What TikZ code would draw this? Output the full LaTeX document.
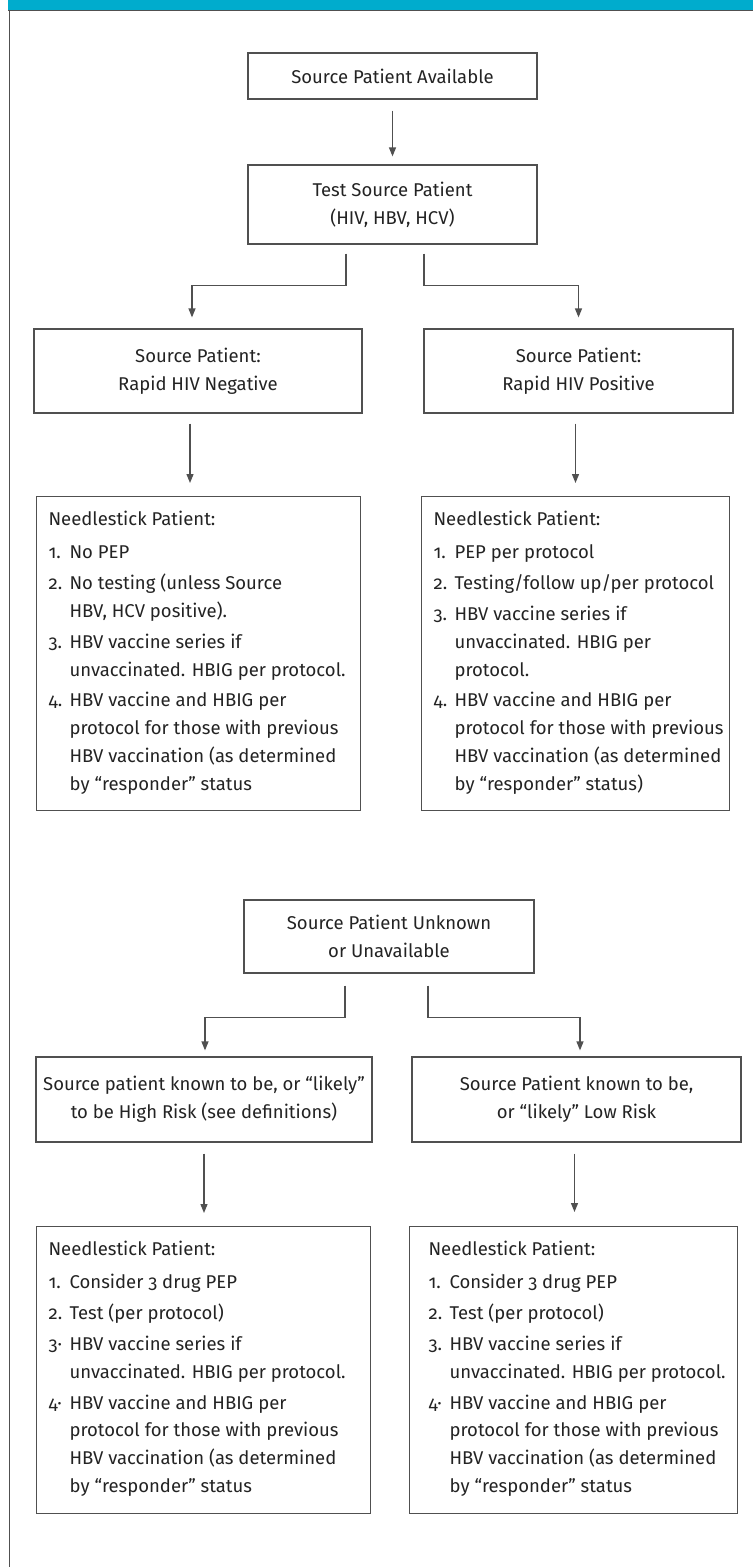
\documentclass[tikz,border=0pt]{standalone}
\usepackage{fontspec}
\setmainfont{Fira Sans}[Numbers=OldStyle]
\definecolor{headteal}{RGB}{0,172,205}
\definecolor{linegray}{RGB}{80,80,80}
\definecolor{textgray}{RGB}{35,35,35}
\usetikzlibrary{arrows.meta,calc}
\newcommand{\needlebox}[4]{\parbox[t][#1][t]{#2}{\hspace*{#3}\begin{tabular}[t]{@{}p{21pt}@{}l@{}}#4\end{tabular}}}

\begin{document}
\begin{tikzpicture}[x=1pt,y=-1pt,
    stage/.style={draw=linegray, line width=1.2pt, align=center, text=textgray, inner sep=0pt,
      font=\fontsize{18.5}{28}\selectfont},
    needle/.style={draw=linegray, line width=1.2pt, anchor=north west, text=textgray,
      inner xsep=12pt, inner ysep=9pt, font=\fontsize{18.5}{27.8}\selectfont},
    flow/.style={draw=linegray, line width=1.2pt, -{Triangle[length=9pt,width=7pt]}},
    ]
    \useasboundingbox (0,0) rectangle (753,1567);
    % header bar and frame
    \fill[headteal] (8,0) rectangle (753,10);
    \draw[linegray, line width=1.3pt] (8,10.5) -- (753,10.5);
    \draw[linegray, line width=1.3pt] (9.5,10) -- (9.5,1567);

    % source patient available
    \node[stage, minimum width=289pt, minimum height=46pt] (avail) at (392.5,76) {Source Patient Available};
    \node[stage, minimum width=289pt, minimum height=79pt] (test) at (392.5,204.5) {Test Source Patient\\(HIV, HBV, HCV)};
    \node[stage, minimum width=328pt, minimum height=84pt] (neg) at (198,371) {Source Patient:\\Rapid HIV Negative};
    \node[stage, minimum width=309pt, minimum height=84pt] (pos) at (578.5,371) {Source Patient:\\Rapid HIV Positive};
    \node[needle] (needleA) at (36,496) {\needlebox{296pt}{300pt}{0pt}{%
      \multicolumn{2}{@{}l@{}}{Needlestick Patient:}\\[6pt]
      1. & No PEP\\[3pt]
      2. & No testing (unless Source\\
         & HBV, HCV positive).\\[3pt]
      3. & HBV vaccine series if\\
         & unvaccinated. HBIG per protocol.\\[3pt]
      4. & HBV vaccine and HBIG per\\
         & protocol for those with previous\\
         & HBV vaccination (as determined\\
         & by “responder” status}};
    \node[needle] (needleB) at (421,496) {\needlebox{296pt}{284pt}{0pt}{%
      \multicolumn{2}{@{}l@{}}{Needlestick Patient:}\\[6pt]
      1. & PEP per protocol\\[3pt]
      2. & Testing/follow up/per protocol\\[3pt]
      3. & HBV vaccine series if\\
         & unvaccinated. HBIG per\\
         & protocol.\\[3pt]
      4. & HBV vaccine and HBIG per\\
         & protocol for those with previous\\
         & HBV vaccination (as determined\\
         & by “responder” status)}};

    % source patient unknown
    \node[stage, minimum width=290pt, minimum height=73pt] (unknown) at (389,936.5) {Source Patient Unknown\\or Unavailable};
    \node[stage, minimum width=336pt, minimum height=85pt] (high) at (204,1099.5) {Source patient known to be, or “likely”\\to be High Risk (see definitions)};
    \node[stage, minimum width=329pt, minimum height=85pt] (low) at (576.5,1099.5) {Source Patient known to be,\\or “likely” Low Risk};
    \node[needle] (needleC) at (36,1226) {\needlebox{269pt}{310pt}{0pt}{%
      \multicolumn{2}{@{}l@{}}{Needlestick Patient:}\\[6pt]
      1. & Consider 3 drug PEP\\[3pt]
      2. & Test (per protocol)\\[3pt]
      3· & HBV vaccine series if\\
         & unvaccinated. HBIG per protocol.\\[3pt]
      4· & HBV vaccine and HBIG per\\
         & protocol for those with previous\\
         & HBV vaccination (as determined\\
         & by “responder” status}};
    \node[needle] (needleD) at (409,1226) {\needlebox{269pt}{304pt}{7pt}{%
      \multicolumn{2}{@{}l@{}}{Needlestick Patient:}\\[6pt]
      1. & Consider 3 drug PEP\\[3pt]
      2. & Test (per protocol)\\[3pt]
      3. & HBV vaccine series if\\
         & unvaccinated. HBIG per protocol.\\[3pt]
      4· & HBV vaccine and HBIG per\\
         & protocol for those with previous\\
         & HBV vaccination (as determined\\
         & by “responder” status}};

    \draw[flow, shorten <=11pt, shorten >=8pt] (avail) -- (test);
    \draw[flow, shorten <=9pt, shorten >=11pt] ([xshift=-46.5pt]test.south) -- ++(0,41) -| ([xshift=-6pt]neg.north);
    \draw[flow, shorten <=9pt, shorten >=11pt] ([xshift=31.5pt]test.south) -- ++(0,41) -| (pos.north);
    \draw[flow, shorten <=10pt, shorten >=13pt] ([xshift=-8pt]neg.south) -- ([xshift=-8pt]neg.south |- needleA.north);
    \draw[flow, shorten <=10pt, shorten >=13pt] ([xshift=-3pt]pos.south) -- ([xshift=-3pt]pos.south |- needleB.north);

    \draw[flow, shorten <=12pt, shorten >=6pt] ([xshift=-44pt]unknown.south) -- ++(0,44) -| ([xshift=1pt]high.north);
    \draw[flow, shorten <=12pt, shorten >=6pt] ([xshift=39pt]unknown.south) -- ++(0,44) -| ([xshift=3.5pt]low.north);
    \draw[flow, shorten <=11pt, shorten >=13pt] (high.south) -- (high.south |- needleC.north);
    \draw[flow, shorten <=11pt, shorten >=14pt] ([xshift=-2pt]low.south) -- ([xshift=-2pt]low.south |- needleD.north);
\end{tikzpicture}
\end{document}
